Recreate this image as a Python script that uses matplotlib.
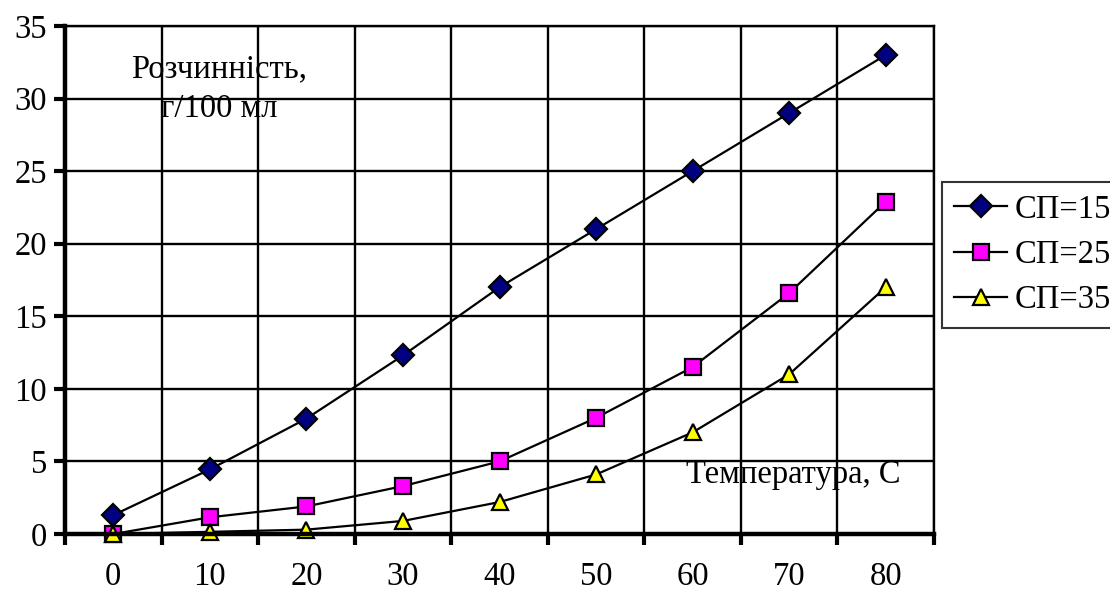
import matplotlib
matplotlib.use("Agg")
import matplotlib.pyplot as plt
import numpy as np

plt.rcParams['font.family'] = ['Liberation Serif', 'DejaVu Serif']

categories = [0, 10, 20, 30, 40, 50, 60, 70, 80]
sp15 = [1.3, 4.45, 7.95, 12.3, 17.0, 21.0, 25.0, 29.0, 33.0]
sp25 = [0.0, 1.15, 1.9, 3.3, 5.0, 8.0, 11.5, 16.6, 22.9]
sp35 = [0.0, 0.15, 0.3, 0.9, 2.2, 4.1, 7.0, 11.0, 17.0]
series_labels = ['СП=15', 'СП=25', 'СП=35']
y_ticks = [0, 5, 10, 15, 20, 25, 30, 35]

FS = 23.5
W, H = 1110, 594
fig = plt.figure(figsize=(W / 100, H / 100), dpi=100)
L, R, T, B = 65, 934, 26, 534
ax = fig.add_axes([L / W, 1 - B / H, (R - L) / W, (B - T) / H])

x = np.arange(len(categories))
styles = [
    dict(marker='D', mfc='#000080', ms=11),
    dict(marker='s', mfc='#FF00FF', ms=11),
    dict(marker='^', mfc='#FFFF00', ms=12),
]
for ys, lab, st in zip([sp15, sp25, sp35], series_labels, styles):
    ax.plot(x, ys, color='black', lw=1.6, mec='black', mew=1.6, label=lab,
            clip_on=False, zorder=5, **st)

ax.set_xlim(-0.5, len(categories) - 0.5)
ax.set_ylim(0, 35)
ax.set_yticks(y_ticks)
ax.set_xticks(x)
ax.set_xticklabels([str(c) for c in categories])
ax.set_xticks(np.arange(len(categories) + 1) - 0.5, minor=True)

ax.tick_params(axis='y', which='major', length=8, width=3, direction='out',
               labelsize=FS, pad=5)
ax.tick_params(axis='x', which='major', length=0, labelsize=FS, pad=20)
ax.tick_params(axis='x', which='minor', length=8, width=3, direction='out')

ax.grid(True, axis='y', which='major', color='black', lw=1.7)
ax.grid(True, axis='x', which='minor', color='black', lw=1.7)
ax.set_axisbelow(True)

for s in ['top', 'right']:
    ax.spines[s].set_linewidth(1.7)
for s in ['left', 'bottom']:
    ax.spines[s].set_linewidth(3.2)
    ax.spines[s].set_zorder(6)

ax.text(0.177, 0.876, 'Розчинність,\nг/100 мл', transform=ax.transAxes,
        ha='center', va='center', fontsize=FS, linespacing=1.4)
ax.text(0.838, 0.116, 'Температура, С', transform=ax.transAxes,
        ha='center', va='center', fontsize=FS)

leg = fig.legend(loc='upper left', bbox_to_anchor=(942 / W, 1 - 182 / H),
                 fontsize=FS, frameon=True, fancybox=False, handlelength=1.6,
                 handletextpad=0.25, borderpad=0.38, labelspacing=0.45,
                 borderaxespad=0)
leg.get_frame().set_edgecolor('black')
leg.get_frame().set_linewidth(1.5)

fig.savefig('out.png', dpi=100)
